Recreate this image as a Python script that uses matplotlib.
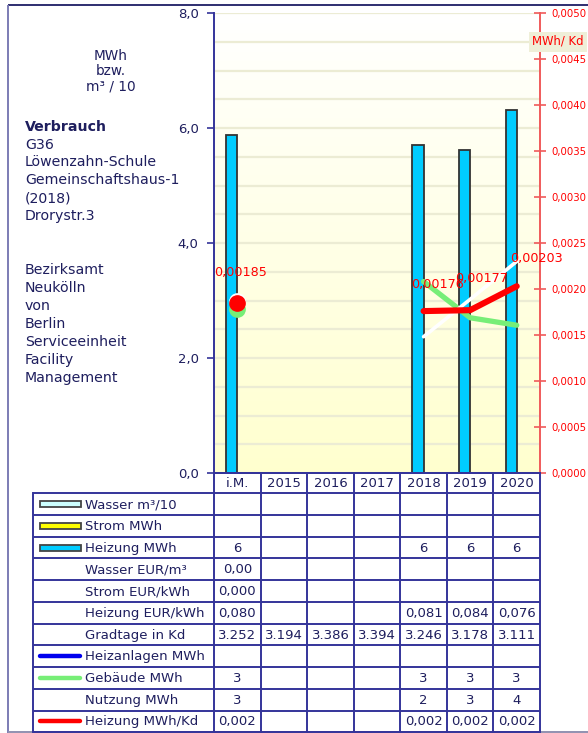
import numpy as np
import matplotlib
matplotlib.use("Agg")
import matplotlib.pyplot as plt
from matplotlib.ticker import FuncFormatter, MultipleLocator

# ---------------- data ----------------
categories = ['i.M.', '2015', '2016', '2017', '2018', '2019', '2020']
heizung_mwh = [5.88, np.nan, np.nan, np.nan, 5.70, 5.61, 6.32]
gebaeude_line = [2.86, np.nan, np.nan, np.nan, 3.33, 2.70, 2.57]
nutzung_line = [3.00, np.nan, np.nan, np.nan, 2.37, 3.02, 3.68]
heizung_kd = [0.00185, np.nan, np.nan, np.nan, 0.00176, 0.00177, 0.00203]
kd_labels = ['0,00185', '', '', '', '0,00176', '0,00177', '0,00203']

row_labels = ['Wasser m³/10', 'Strom MWh', 'Heizung MWh', 'Wasser EUR/m³',
              'Strom EUR/kWh', 'Heizung EUR/kWh', 'Gradtage in Kd',
              'Heizanlagen MWh', 'Gebäude MWh', 'Nutzung MWh', 'Heizung MWh/Kd']
table_values = [
    ['', '', '', '', '', '', ''],
    ['', '', '', '', '', '', ''],
    ['6', '', '', '', '6', '6', '6'],
    ['0,00', '', '', '', '', '', ''],
    ['0,000', '', '', '', '', '', ''],
    ['0,080', '', '', '', '0,081', '0,084', '0,076'],
    ['3.252', '3.194', '3.386', '3.394', '3.246', '3.178', '3.111'],
    ['', '', '', '', '', '', ''],
    ['3', '', '', '', '3', '3', '3'],
    ['3', '', '', '', '2', '3', '4'],
    ['0,002', '', '', '', '0,002', '0,002', '0,002'],
]
# legend swatch per row: (kind, color)
row_swatch = [('rect', '#CCFFFF'), ('rect', '#FFFF00'), ('rect', '#00CCFF'),
              None, None, None, None,
              ('line', '#0000EE'), ('line', '#77EE77'), None, ('line', '#FF0000')]

title_lines = ['G36', 'Löwenzahn-Schule', 'Gemeinschaftshaus-1', '(2018)', 'Drorystr.3']
org_lines = ['Bezirksamt', 'Neukölln', 'von', 'Berlin', 'Serviceeinheit',
             'Facility', 'Management']
unit_lines = ['MWh', 'bzw.', 'm³ / 10']

# ---------------- layout ----------------
W, H = 588, 733
NAVY_T = '#1E1E5E'
NAVY_L = '#34349A'
RED = '#FF0000'
plt.rcParams['font.family'] = ['DejaVu Sans']

fig = plt.figure(figsize=(W / 100, H / 100), dpi=100)
fig.patch.set_facecolor('white')

X0, X1, YT, YB = 214, 540, 13, 473
ax = fig.add_axes([X0 / W, 1 - YB / H, (X1 - X0) / W, (YB - YT) / H])
ax.set_xlim(-0.5, len(categories) - 0.5)
ax.set_ylim(0, 8)

# background gradient
grad = np.linspace(0, 1, 256)[:, None]
top = np.array([1.0, 1.0, 1.0])
bot = np.array([1.0, 1.0, 0.81])
img = top[None, None, :] * (1 - grad[..., None]) + bot[None, None, :] * grad[..., None]
ax.imshow(img, extent=[0, 1, 0, 1], transform=ax.transAxes, aspect='auto', zorder=0)

ax.yaxis.set_major_locator(MultipleLocator(2))
ax.yaxis.set_minor_locator(MultipleLocator(0.5))
ax.grid(which='both', axis='y', color='#ECECD4', lw=1.6, zorder=0.5)
ax.set_axisbelow(True)
ax.yaxis.set_major_formatter(FuncFormatter(lambda v, p: f"{v:.1f}".replace('.', ',')))
ax.tick_params(axis='y', which='major', direction='out', length=5, width=1.2,
               color=NAVY_L, labelcolor=NAVY_T, labelsize=9.5, pad=6)
ax.tick_params(axis='y', which='minor', length=0)
ax.set_xticks([])
for s in ['top', 'right']:
    ax.spines[s].set_visible(False)
ax.spines['left'].set_color(NAVY_L)
ax.spines['left'].set_linewidth(1.4)
ax.spines['bottom'].set_color(NAVY_L)
ax.spines['bottom'].set_linewidth(1.4)

xs = np.arange(len(categories))
bw = 0.24
ax.bar(xs - bw / 2, heizung_mwh, width=bw, color='#00CCFF', edgecolor='#333333',
       linewidth=1.3, zorder=2)

ax.plot(xs[4:], gebaeude_line[4:], color='#77EE77', lw=3.8, zorder=3,
        solid_capstyle='round')
ax.plot(xs[4:], nutzung_line[4:], color='white', lw=2.6, zorder=3.1,
        solid_capstyle='round')
ax.plot([0], [nutzung_line[0]], 'o', color='white', ms=11, zorder=3.1)
ax.plot([0], [gebaeude_line[0]], 'o', color='#77EE77', ms=11, zorder=3)

ax2 = ax.twinx()
ax2.set_ylim(0, 0.005)
ax2.patch.set_visible(False)
ax2.yaxis.set_major_locator(MultipleLocator(0.0005))
ax2.yaxis.set_major_formatter(FuncFormatter(lambda v, p: f"{v:.4f}".replace('.', ',')))
ax2.tick_params(axis='y', direction='inout', length=9, width=1.2, color='#F05A5A',
                labelcolor=RED, labelsize=7.3, pad=3.6)
for s in ['top', 'left', 'bottom']:
    ax2.spines[s].set_visible(False)
ax2.spines['right'].set_color('#F05A5A')
ax2.spines['right'].set_linewidth(1.4)
ax2.set_xticks([])

ax2.plot(xs[4:], heizung_kd[4:], color=RED, lw=4.4, zorder=4, solid_capstyle='round')
ax2.plot([0], [heizung_kd[0]], 'o', color=RED, ms=11, zorder=4)

label_offsets = [(3, 30), None, None, None, (14, 27), (11, 32), (20, 28)]
for i, (v, t) in enumerate(zip(heizung_kd, kd_labels)):
    if t:
        ax2.annotate(t, (xs[i], v), xytext=label_offsets[i], textcoords='offset pixels',
                     ha='center', va='center', color=RED, fontsize=9.2, zorder=5)

# ---------------- overlay (pixel coords) ----------------
ov = fig.add_axes([0, 0, 1, 1], zorder=5)
ov.set_xlim(0, W)
ov.set_ylim(H, 0)
ov.axis('off')
ov.patch.set_visible(False)

# figure frame
ov.plot([8, W], [5, 5], color='#2E2E70', lw=1.4, solid_capstyle='butt')
ov.plot([8, 8], [5, H], color='#7C7CB4', lw=1.4, solid_capstyle='butt')
ov.plot([8, W], [732.3, 732.3], color='#9090B0', lw=1.4, solid_capstyle='butt')

# unit text
for k, t in enumerate(unit_lines):
    ov.text(111, 60 + k * 15.3, t, ha='center', va='baseline', fontsize=9.8, color=NAVY_T)
ov.text(25, 130.8, 'Verbrauch', ha='left', va='baseline', fontsize=10.2,
        fontweight='bold', color=NAVY_T)
for k, t in enumerate(title_lines):
    ov.text(25, 148.6 + k * 17.8, t, ha='left', va='baseline', fontsize=10.2, color=NAVY_T)
for k, t in enumerate(org_lines):
    ov.text(25, 274.3 + k * 17.9, t, ha='left', va='baseline', fontsize=10.2, color=NAVY_T)

# right axis unit box
ov.text(532, 41.5, 'MWh/ Kd', ha='left', va='center', fontsize=8.4, color=RED,
        bbox=dict(boxstyle='square,pad=0.3', facecolor='#EFEFD8', edgecolor='none'))

# table
ncol = len(categories)
cw = (X1 - X0) / ncol
hdr_top, hdr_bot = 473, 493.3
row_h = (732.3 - hdr_bot) / len(row_labels)
LX = 33
lw_t = 1.4
# header row
for j, c in enumerate(categories):
    ov.text(X0 + (j + 0.5) * cw, (hdr_top + hdr_bot) / 2 + 0.5, c, ha='center',
            va='center', fontsize=9.5, color=NAVY_T)
# horizontal lines
ov.plot([X0, X1], [hdr_top, hdr_top], color=NAVY_L, lw=lw_t)
for r in range(len(row_labels) + 1):
    y = hdr_bot + r * row_h
    ov.plot([LX, X1], [y, y], color=NAVY_L, lw=lw_t, solid_capstyle='butt')
# vertical lines
ov.plot([LX, LX], [hdr_bot, 732.3], color=NAVY_L, lw=lw_t)
for j in range(ncol + 1):
    x = X0 + j * cw
    ov.plot([x, x], [hdr_top, 732.3], color=NAVY_L, lw=lw_t)
# rows
for r, lab in enumerate(row_labels):
    yc = hdr_bot + (r + 0.5) * row_h
    ov.text(85, yc + 0.5, lab, ha='left', va='center', fontsize=9.5, color=NAVY_T)
    sw = row_swatch[r]
    if sw is not None:
        kind, col = sw
        if kind == 'rect':
            ov.add_patch(plt.Rectangle((40, yc - 3), 41, 6, facecolor=col,
                                       edgecolor='#444444', lw=1.3))
        else:
            ov.plot([40, 80], [yc, yc], color=col, lw=3.2, solid_capstyle='round')
    for j, v in enumerate(table_values[r]):
        if v:
            ov.text(X0 + (j + 0.5) * cw, yc + 0.5, v, ha='center', va='center',
                    fontsize=9.5, color=NAVY_T)

fig.savefig('out.png', dpi=100)
